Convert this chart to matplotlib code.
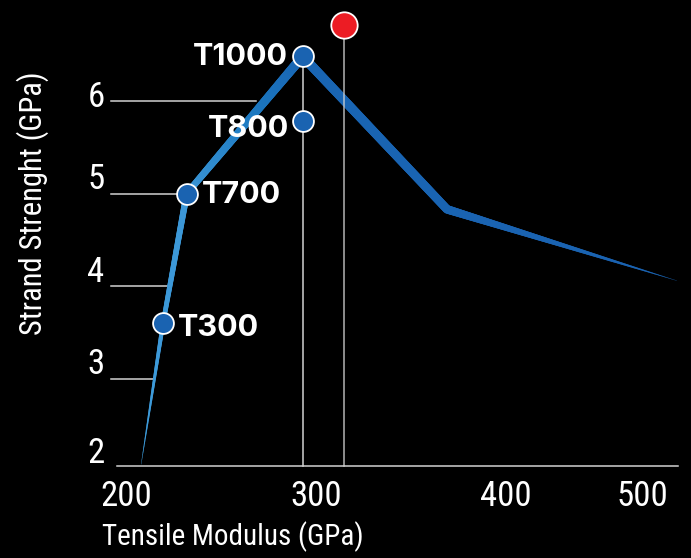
import numpy as np
import matplotlib
matplotlib.use("Agg")
import matplotlib.pyplot as plt
from matplotlib.collections import LineCollection
from matplotlib.colors import LinearSegmentedColormap
from matplotlib import font_manager

# curve through the fibre grades (tensile modulus GPa, strand strength GPa)
curve_mod = [208, 219.5, 232, 293, 369, 490]
curve_str = [2.08, 3.6, 5.0, 6.48, 4.83, 4.06]

fiber_names = ['T300', 'T700', 'T800', 'T1000']
fiber_mod = [219.5, 232, 293, 293]
fiber_str = [3.6, 5.0, 5.78, 6.48]

red_mod = 315
red_str = 6.82

y_levels = [3, 4, 5, 6]
y_ticks = [2, 3, 4, 5, 6]
x_ticks = [200, 300, 400, 472]
x_ticklabels = ['200', '300', '400', '500']
base = 2.06


def pick_font(names):
    for n in names:
        try:
            font_manager.findfont(n, fallback_to_default=False)
            return n
        except Exception:
            pass
    return 'DejaVu Sans'


narrow = pick_font(['Liberation Sans Narrow', 'DejaVu Sans Condensed', 'Roboto Condensed'])
bold = pick_font(['Inter', 'Open Sans', 'Lato'])

fig = plt.figure(figsize=(6.91, 5.58), dpi=100, facecolor='black')
ax = fig.add_axes([0, 0, 1, 1])
ax.set_facecolor('black')
ax.set_xlim(133.7, 497.4)
ax.set_ylim(1.069, 7.088)
ax.axis('off')

grid_c = '#d2d2d2'

# x axis line
ax.plot([195.3, 490.5], [base, base], color=grid_c, lw=1.1, zorder=1)

# horizontal guide lines, stopping at the rising part of the curve
for lv in y_levels:
    xe = np.interp(lv, curve_str[:4], curve_mod[:4])
    if lv == 6:
        xe -= 5
    ax.plot([192.1, xe], [lv, lv], color=grid_c, lw=1.1, zorder=1)

# vertical guide line through T800 / T1000
ax.plot([fiber_mod[3], fiber_mod[3]], [base, fiber_str[3]], color=grid_c, lw=1.1, zorder=1)

# tapered gradient curve, built in pixel space
fig.canvas.draw()
pts = ax.transData.transform(np.column_stack([curve_mod, curve_str]))
seg_len = np.hypot(*np.diff(pts, axis=0).T)
cum = np.concatenate([[0], np.cumsum(seg_len)])
s = np.linspace(0, cum[-1], 700)
xs = np.interp(s, cum, curve_mod)
ys = np.interp(s, cum, curve_str)
width_px = np.interp(s, cum, [0.3, 4.5, 6.5, 9.5, 8.5, 0.2])
frac = s / cum[-1]
kf = cum / cum[-1]
cmap = LinearSegmentedColormap.from_list(
    'blu', [(0, '#3d9bda'), (kf[2], '#3c97d7'), (kf[2] + 0.6 * (kf[3] - kf[2]), '#1b78c0'),
            (kf[3], '#1965b3'), (1, '#1a62b0')])
segs = np.stack([np.column_stack([xs[:-1], ys[:-1]]), np.column_stack([xs[1:], ys[1:]])], axis=1)
mid_w = (width_px[:-1] + width_px[1:]) / 2 * 72 / 100
lc = LineCollection(segs, linewidths=mid_w, colors=cmap((frac[:-1] + frac[1:]) / 2),
                    capstyle='round', zorder=2)
ax.add_collection(lc)

# red guide line sits over the curve
ax.plot([red_mod, red_mod], [base, red_str], color=grid_c, lw=1.1, alpha=0.85, zorder=3)

# markers
ax.scatter(fiber_mod, fiber_str, s=15 ** 2, color='#1a63b1', edgecolors='white',
           linewidths=1.3, zorder=5)
ax.scatter([red_mod], [red_str], s=19 ** 2, color='#ec1c24', edgecolors='white',
           linewidths=1.3, zorder=5)

# fibre labels
lab_kw = dict(color='white', fontsize=22, family=bold, fontweight='bold', zorder=6)
ax.annotate('T300', (fiber_mod[0], fiber_str[0]), xytext=(15, -5), textcoords='offset pixels',
            ha='left', va='center', **lab_kw)
ax.annotate('T700', (fiber_mod[1], fiber_str[1]), xytext=(15, -1), textcoords='offset pixels',
            ha='left', va='center', **lab_kw)
ax.annotate('T800', (fiber_mod[2], fiber_str[2]), xytext=(-14, -8), textcoords='offset pixels',
            ha='right', va='center', **lab_kw)
ax.annotate('T1000', (fiber_mod[3], fiber_str[3]), xytext=(-15, -1), textcoords='offset pixels',
            ha='right', va='center', **lab_kw)

# tick labels
tk = dict(color='white', fontsize=25, family=narrow)
y_lab_dy = {2: 18, 3: 14, 4: 14, 5: 14, 6: 3}
for v in y_ticks:
    ax.annotate(str(v), (133.7, v), xytext=(96, y_lab_dy[v]), textcoords='offset pixels',
                ha='center', va='center', **tk)
for v, t in zip(x_ticks, x_ticklabels):
    ax.annotate(t, (v, base), xytext=(0, -30), textcoords='offset pixels',
                ha='center', va='center', **tk)

ax.text(233 / 691, 21 / 558, 'Tensile Modulus (GPa)', transform=fig.transFigure,
        ha='center', va='center', color='white', fontsize=21, family=narrow)
ax.text(33 / 691, 1 - 203 / 558, 'Strand Strenght (GPa)', transform=fig.transFigure,
        ha='center', va='center', rotation=90, color='white', fontsize=22, family=narrow)

fig.savefig('out.png', dpi=100, facecolor='black')
